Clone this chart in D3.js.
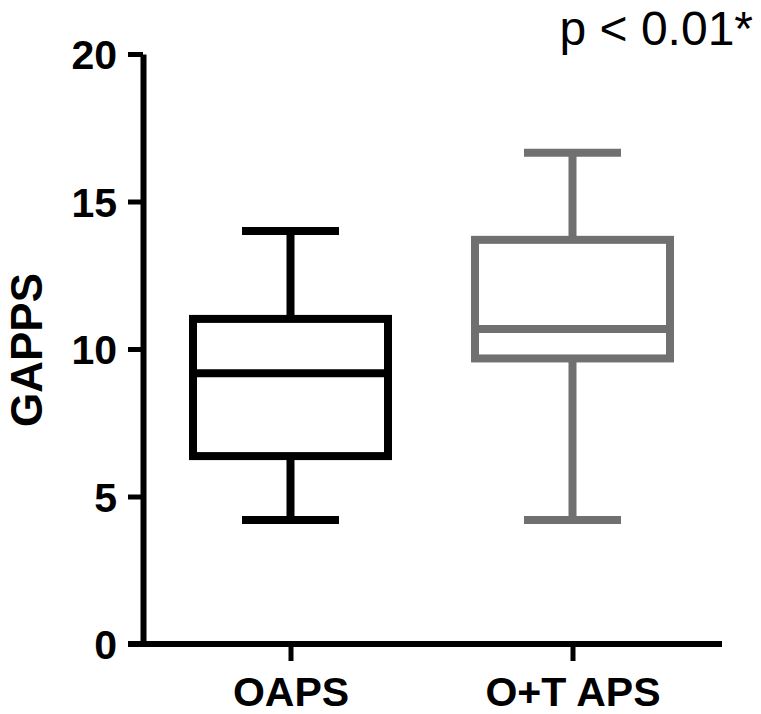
<!DOCTYPE html>
<html>
<head>
<meta charset="utf-8">
<script src="https://cdn.jsdelivr.net/npm/d3@7/dist/d3.min.js"></script>
<style>
  html, body { margin: 0; padding: 0; background: #fff; }
  svg { display: block; }
</style>
</head>
<body>
<svg id="chart" width="761" height="714"></svg>
<script>
// ---- data ----
const categories = ["OAPS", "O+T APS"];
const mins    = [4.2, 4.2];
const q1s     = [6.37, 9.68];
const medians = [9.18, 10.68];
const q3s     = [11.02, 13.7];
const maxs    = [14.0, 16.65];
const colors  = ["#000000", "#707070"];
const yTicks  = [0, 5, 10, 15, 20];
const yLabel  = "GAPPS";
const pText   = "p < 0.01*";

const svg = d3.select("#chart");
const font = "'Liberation Sans', Arial, Helvetica, sans-serif";

const y = d3.scaleLinear().domain([0, 20]).range([644, 54]);
const x = d3.scalePoint().domain(categories).range([290.5, 572.5]);

const axisX0 = 143;   // y-axis position
const axisXEnd = 722; // x-axis end

// y axis
const yAxis = d3.axisLeft(y).tickValues(yTicks).tickSize(15).tickPadding(11).tickSizeOuter(0);
const gy = svg.append("g").attr("transform", `translate(${axisX0},0)`).call(yAxis);
gy.select(".domain").attr("stroke", "#000").attr("stroke-width", 6);
gy.selectAll(".tick line").attr("stroke", "#000").attr("stroke-width", 5);
gy.selectAll(".tick text")
  .attr("font-family", font).attr("font-weight", "bold").attr("font-size", 41)
  .attr("fill", "#000").attr("dy", "0.36em");

// x axis
const xAxis = d3.axisBottom(x).tickSize(17).tickPadding(16).tickSizeOuter(0);
const gx = svg.append("g").attr("transform", `translate(0,${y(0)})`).call(xAxis);
gx.select(".domain").remove();
gx.append("line").attr("x1", 128).attr("x2", axisXEnd).attr("y1", 0).attr("y2", 0)
  .attr("stroke", "#000").attr("stroke-width", 6);
gx.selectAll(".tick line").attr("stroke", "#000").attr("stroke-width", 5);
gx.selectAll(".tick text")
  .attr("font-family", font).attr("font-weight", "bold").attr("font-size", 41)
  .attr("fill", "#000");

// boxes
const boxHalf = 97.5;
const capHalf = 48.5;
const sw = 8;
categories.forEach((c, i) => {
  const cx = x(c);
  const g = svg.append("g").attr("stroke", colors[i]).attr("stroke-width", sw).attr("fill", "none");
  // whiskers
  g.append("line").attr("x1", cx).attr("x2", cx).attr("y1", y(maxs[i])).attr("y2", y(q3s[i]));
  g.append("line").attr("x1", cx).attr("x2", cx).attr("y1", y(q1s[i])).attr("y2", y(mins[i]));
  g.append("line").attr("x1", cx - capHalf).attr("x2", cx + capHalf).attr("y1", y(maxs[i])).attr("y2", y(maxs[i]));
  g.append("line").attr("x1", cx - capHalf).attr("x2", cx + capHalf).attr("y1", y(mins[i])).attr("y2", y(mins[i]));
  // box
  g.append("rect").attr("x", cx - boxHalf).attr("width", boxHalf * 2)
    .attr("y", y(q3s[i])).attr("height", y(q1s[i]) - y(q3s[i]))
    .attr("fill", "#fff");
  // median
  g.append("line").attr("x1", cx - boxHalf).attr("x2", cx + boxHalf).attr("y1", y(medians[i])).attr("y2", y(medians[i]));
});

// y label
svg.append("text")
  .attr("transform", `translate(42,350) rotate(-90)`)
  .attr("text-anchor", "middle")
  .attr("font-family", font).attr("font-weight", "bold").attr("font-size", 44)
  .attr("fill", "#000")
  .text(yLabel);

// p value
svg.append("text")
  .attr("x", 753).attr("y", 45)
  .attr("text-anchor", "end")
  .attr("font-family", font).attr("font-size", 48)
  .attr("fill", "#000")
  .text(pText);
</script>
</body>
</html>
